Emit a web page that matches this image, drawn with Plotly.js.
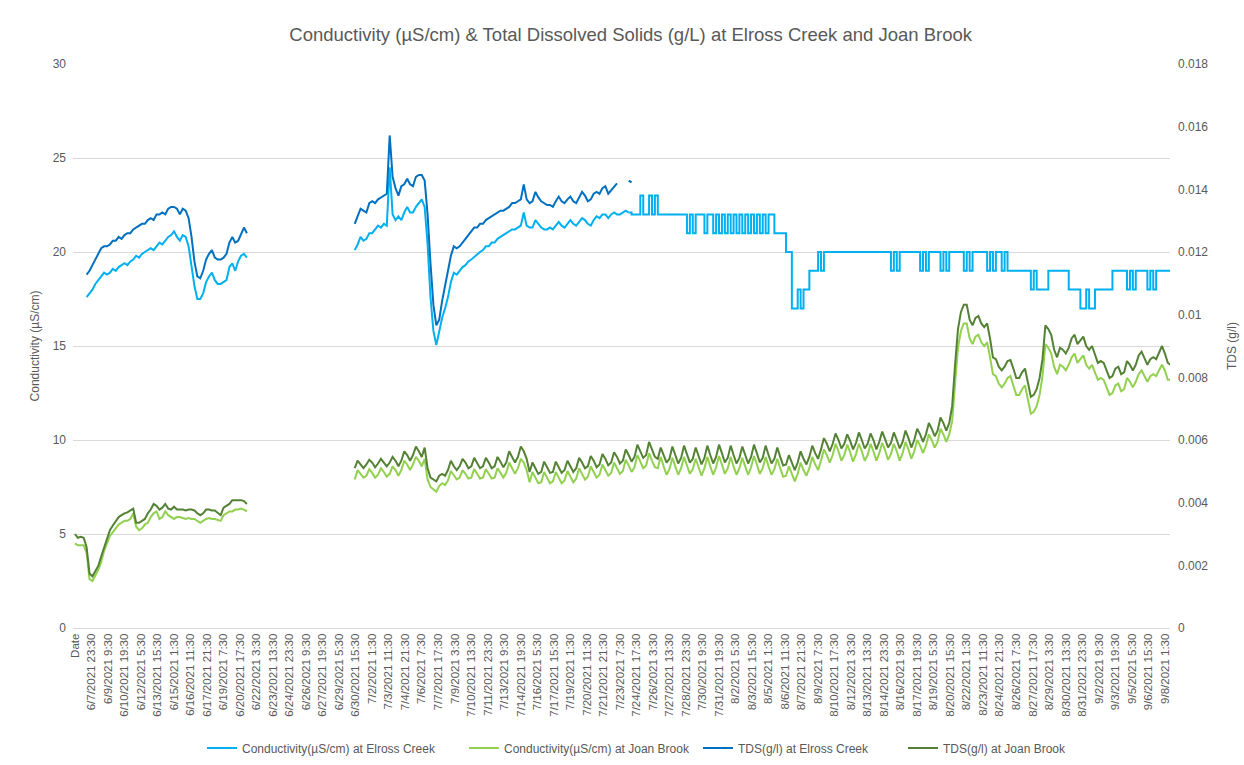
<!DOCTYPE html>
<html>
<head>
<meta charset="utf-8">
<script src="https://cdn.plot.ly/plotly-3.0.1.min.js"></script>
<style>html,body{margin:0;padding:0;background:#fff;}#chart{width:1244px;height:765px;}</style>
</head>
<body>
<div id="chart"></div>
<script>
// ---------- DATA (one reading every 6 hours) ----------
const stepHours = 6;

// Conductivity (µS/cm) at Elross Creek
const condElrossJunStart = '2021-06-07 13:30';
const condElrossJun = [17.6,17.8,18.0,18.3,18.5,18.7,18.9,18.8,18.9,19.1,
  19.0,19.2,19.3,19.4,19.3,19.5,19.6,19.8,19.7,19.9,
  20.0,20.1,20.2,20.1,20.3,20.5,20.4,20.6,20.8,20.9,
  21.1,20.8,20.6,20.9,20.8,20.3,19.3,18.2,17.5,17.5,
  17.8,18.4,18.7,18.9,18.5,18.3,18.3,18.4,18.5,19.2,
  19.4,19.0,19.5,19.8,19.9,19.7];
const condElrossJulStart = '2021-06-30 13:30';
const condElrossJul = [20.1,20.4,20.8,20.6,20.7,21.0,21.0,21.2,21.4,21.3,
  21.5,21.4,24.5,22.0,21.7,21.9,21.7,22.1,22.4,22.1,
  22.1,22.4,22.6,22.8,22.4,20.4,17.6,15.8,15.05,15.8,
  16.5,17.0,17.6,18.4,18.9,18.8,19.0,19.2,19.3,19.5,
  19.6,19.75,19.9,20.0,20.1,20.3,20.3,20.5,20.5,20.7,
  20.8,20.9,21.0,21.1,21.2,21.2,21.3,21.4,22.1,21.4,
  21.3,21.3,21.7,21.5,21.3,21.2,21.2,21.3,21.2,21.4,
  21.6,21.4,21.3,21.5,21.7,21.5,21.4,21.6,21.8,21.7,
  21.5,21.4,21.7,21.9,21.8,22.0,22.0,21.8,22.0,22.1,
  22.0,22.0,22.1,22.2,22.1,22.0,22.0,22.0,23.0,22.0,
  22,23,22,23,22,22,22,22,22,22,
  22,22,22,22,21,22,21,22,22,22,
  21,22,22,21,22,21,22,21,22,21,
  22,21,22,21,22,21,22,21,22,21,
  22,21,22,22,21,21,21,21,20,20,
  17,17,18,17,18,18,19,19,19,20,
  19,20,20,20,20,20,20,20,20,20,
  20,20,20,20,20,20,20,20,20,20,
  20,20,20,20,19,20,19,20,20,20,
  20,20,20,20,19,20,19,20,20,20,
  20,19,20,19,20,20,20,20,20,19,
  20,19,20,20,20,20,20,19,20,19,
  20,20,19,20,19,19,19,19,19,19,
  19,19,18,19,18,18,18,18,19,19,
  19,19,19,19,19,18,18,18,18,17,
  17,18,17,17,18,18,18,18,18,18,
  19,19,19,19,19,18,19,18,19,19,
  19,19,18,19,18,19,19,19,19,19,
  19];
// from this reading on the Elross conductivity is logged in whole µS/cm steps
const condElrossStepFrom = '2021-07-24 01:30';

// Conductivity (µS/cm) at Joan Brook
const condJoanJunStart = '2021-06-06 13:30';
const condJoanJun = [4.5,4.4,4.4,4.4,4.0,2.6,2.5,2.8,3.1,3.5,
  4.1,4.5,4.9,5.1,5.3,5.5,5.6,5.7,5.7,5.8,
  6.1,5.4,5.2,5.3,5.5,5.6,5.9,6.1,6.2,5.8,
  5.9,6.2,6.0,5.9,5.8,5.9,5.9,5.85,5.8,5.85,
  5.8,5.8,5.7,5.6,5.7,5.8,5.85,5.8,5.8,5.75,
  5.7,6.0,6.1,6.2,6.2,6.3,6.3,6.35,6.3,6.2];
const condJoanJulStart = '2021-06-30 13:30';
const condJoanJul = [7.9,8.4,8.2,8.0, 8.1,8.45,8.25,8.0, 8.15,8.5,8.3,8.05, 8.2,8.6,8.4,8.1,
  8.4,8.9,8.7,8.4, 8.7,9.1,8.9,8.6, 9.0,7.9,7.5,7.35, 7.25,7.55,7.7,7.6,
  7.85,8.35,8.1,7.9, 8.0,8.4,8.2,7.95, 8.0,8.45,8.2,7.95, 8.0,8.45,8.2,7.95,
  8.0,8.5,8.25,8.0, 8.25,8.8,8.5,8.2, 8.5,9.0,8.8,8.4, 7.75,8.3,8.0,7.7,
  7.75,8.3,8.0,7.7, 7.8,8.3,8.0,7.7, 7.85,8.35,8.05,7.75, 7.95,8.5,8.2,7.9,
  8.05,8.6,8.3,8.0, 8.15,8.7,8.4,8.1, 8.25,8.8,8.5,8.2, 8.35,8.95,8.65,8.3,
  8.55,9.2,8.85,8.5, 8.65,9.3,8.9,8.55, 8.5,9.1,8.6,8.15, 8.45,9.05,8.6,8.15,
  8.5,9.1,8.65,8.2, 8.45,9.0,8.55,8.1, 8.5,9.1,8.6,8.15, 8.55,9.15,8.7,8.2,
  8.5,9.1,8.6,8.15, 8.5,9.05,8.6,8.15, 8.55,9.15,8.7,8.2, 8.5,9.1,8.6,8.15,
  8.45,9.0,8.5,8.05, 8.1,8.6,8.2,7.8, 8.2,8.8,8.4,8.1, 8.5,9.1,8.7,8.4,
  8.9,9.5,9.2,8.8, 9.2,9.8,9.4,8.9, 9.2,9.75,9.35,8.85, 9.25,9.8,9.4,8.9,
  9.2,9.8,9.4,8.9, 9.3,9.85,9.45,8.95, 9.25,9.8,9.4,8.9, 9.3,9.9,9.5,9.0,
  9.4,10.0,9.7,9.3, 9.7,10.3,10.0,9.6, 9.9,10.6,10.3,9.9,
  10.3,11.0,13.0,14.9,15.8,16.2,16.2,15.4,15.1,15.5,
  15.6,15.2,15.0,15.2,14.4,13.5,13.4,13.0,12.8,13.0,
  13.3,13.4,12.9,12.4,12.4,12.7,12.9,12.1,11.4,11.5,
  11.8,12.4,13.4,15.1,14.9,14.6,13.9,13.5,14.0,13.9,
  13.7,14.0,14.4,14.6,14.1,14.3,14.5,14.0,13.8,14.0,
  13.6,13.2,13.3,13.2,12.8,12.4,12.5,12.9,13.0,12.6,
  12.7,13.3,13.1,12.8,13.1,13.5,13.7,13.4,13.1,13.4,
  13.5,13.4,13.7,14.0,13.7,13.2,13.2];

// TDS (g/l) at Elross Creek
const tdsElrossJunStart = '2021-06-07 13:30';
const tdsElrossJun = [0.01128,0.0114,0.01158,0.01176,0.01194,0.01212,0.01218,0.01218,0.01224,0.01236,
  0.01236,0.01248,0.01242,0.01254,0.0126,0.0126,0.01272,0.01278,0.01284,0.0129,
  0.0129,0.01302,0.01308,0.01302,0.0132,0.0132,0.01326,0.0132,0.01338,0.01344,
  0.01344,0.01338,0.0132,0.01338,0.01332,0.01308,0.01248,0.0117,0.01122,0.01116,
  0.0114,0.01176,0.01194,0.01206,0.01182,0.01176,0.01176,0.01182,0.01194,0.0123,
  0.01248,0.0123,0.01236,0.0126,0.01278,0.0126];
const tdsElrossJulStart = '2021-06-30 13:30';
const tdsElrossJul = [0.0129,0.01314,0.01338,0.01332,0.01326,0.01356,0.01362,0.01356,0.01368,0.01374,
  0.0138,0.01386,0.01572,0.0144,0.01404,0.0138,0.0141,0.01416,0.01434,0.01416,
  0.0141,0.0144,0.01446,0.01446,0.01428,0.0132,0.01164,0.01032,0.00966,0.00984,
  0.01044,0.01098,0.0114,0.01188,0.01218,0.01212,0.01218,0.0123,0.01242,0.01254,
  0.01266,0.01278,0.01278,0.0129,0.0129,0.01302,0.01308,0.01314,0.0132,0.01326,
  0.01332,0.01332,0.01338,0.01344,0.01356,0.01356,0.01362,0.01368,0.01416,0.01368,
  0.01356,0.01362,0.01392,0.01374,0.01362,0.01356,0.0135,0.0135,0.01344,0.01362,
  0.01377,0.01362,0.01356,0.01368,0.01377,0.01362,0.01356,0.01374,0.01392,0.0138,
  0.01362,0.01368,0.01386,0.01392,0.01386,0.01404,0.0141,0.01386,0.01398,0.0141,
  0.01419];
const tdsElrossLateStart = '2021-07-24 01:30';
const tdsElrossLate = [0.01428,0.01422];

// TDS (g/l) at Joan Brook
const tdsJoanJunStart = '2021-06-06 13:30';
const tdsJoanJun = [0.003,0.00288,0.00291,0.00288,0.00258,0.00174,0.00165,0.0018,0.00198,0.00228,
  0.00258,0.00288,0.00312,0.00327,0.00342,0.00354,0.0036,0.00366,0.00369,0.00375,
  0.00381,0.00336,0.00336,0.00342,0.00348,0.00366,0.00378,0.00396,0.0039,0.00378,
  0.00384,0.00396,0.00381,0.00378,0.00387,0.00378,0.00378,0.00378,0.00375,0.00378,
  0.00378,0.00375,0.00366,0.0036,0.00366,0.00378,0.00378,0.00375,0.00375,0.00366,
  0.0036,0.00384,0.0039,0.00396,0.00408,0.00408,0.00408,0.00408,0.00405,0.00396];
const tdsJoanJulStart = '2021-06-30 13:30';
const tdsJoanJul = [0.0051,0.00534,0.00522,0.0051, 0.00522,0.00537,0.00528,0.00513, 0.00525,0.0054,0.00528,0.00516, 0.00528,0.00546,0.00534,0.00516,
  0.00534,0.00564,0.00552,0.00534, 0.00552,0.00579,0.00564,0.00546, 0.00576,0.0051,0.0048,0.00474, 0.00468,0.00486,0.00492,0.00486,
  0.00504,0.00534,0.00516,0.00504, 0.00516,0.0054,0.00528,0.0051, 0.00516,0.00543,0.00528,0.0051, 0.00516,0.00543,0.00528,0.0051,
  0.00516,0.00546,0.00531,0.00513, 0.00528,0.00564,0.00546,0.00528, 0.00546,0.00579,0.00564,0.0054, 0.00498,0.00528,0.0051,0.00492,
  0.00498,0.00531,0.00513,0.00495, 0.00498,0.00531,0.00513,0.00495, 0.00504,0.00534,0.00516,0.00498, 0.0051,0.00543,0.00528,0.0051,
  0.00516,0.00549,0.00534,0.00513, 0.00522,0.00555,0.0054,0.00519, 0.00528,0.00561,0.00546,0.00525, 0.00534,0.0057,0.00552,0.00531,
  0.00546,0.00585,0.00564,0.00543, 0.00552,0.00594,0.0057,0.00546, 0.0054,0.00576,0.00552,0.00528, 0.0054,0.00579,0.00552,0.00525,
  0.00543,0.00582,0.00555,0.00528, 0.0054,0.00576,0.00549,0.00522, 0.00543,0.00582,0.00552,0.00525, 0.00546,0.00585,0.00558,0.00528,
  0.00543,0.00582,0.00552,0.00525, 0.00543,0.00579,0.00552,0.00525, 0.00546,0.00585,0.00558,0.00528, 0.00543,0.00582,0.00552,0.00525,
  0.0054,0.00576,0.00546,0.00519, 0.00522,0.00552,0.00528,0.00504, 0.00528,0.00564,0.0054,0.00522, 0.00546,0.00582,0.00558,0.0054,
  0.0057,0.00606,0.00588,0.00564, 0.00588,0.00621,0.006,0.00573, 0.00588,0.00618,0.00597,0.0057, 0.00591,0.00624,0.006,0.00573,
  0.00588,0.00621,0.006,0.0057, 0.00594,0.00627,0.00603,0.00576, 0.00591,0.00624,0.006,0.00573, 0.00594,0.0063,0.00606,0.00576,
  0.006,0.00636,0.00618,0.00594, 0.00618,0.00654,0.00636,0.00612, 0.0063,0.00672,0.00654,0.0063,
  0.00654,0.00708,0.0084,0.00954,0.01008,0.01032,0.01032,0.00984,0.00966,0.0099,
  0.00996,0.00972,0.0096,0.00972,0.00924,0.00864,0.00858,0.00834,0.00822,0.00834,
  0.00852,0.00855,0.00828,0.00798,0.00798,0.00816,0.00828,0.0078,0.00738,0.00744,
  0.00762,0.00798,0.00858,0.00966,0.00954,0.00936,0.00888,0.00864,0.00894,0.00888,
  0.00876,0.00894,0.00924,0.00936,0.00906,0.00918,0.0093,0.009,0.00888,0.009,
  0.00876,0.00846,0.00852,0.00846,0.00822,0.00798,0.00804,0.00828,0.00834,0.0081,
  0.00816,0.00852,0.0084,0.00822,0.0084,0.0087,0.00882,0.00858,0.0084,0.00858,
  0.00864,0.00858,0.00882,0.009,0.00876,0.00846,0.0084];

// Category axis labels (every 34 hours, first one is the header cell)
const tickLabels = ["Date","6/7/2021 23:30","6/9/2021 9:30","6/10/2021 19:30","6/12/2021 5:30","6/13/2021 15:30","6/15/2021 1:30","6/16/2021 11:30","6/17/2021 21:30","6/19/2021 7:30","6/20/2021 17:30","6/22/2021 3:30","6/23/2021 13:30","6/24/2021 23:30","6/26/2021 9:30","6/27/2021 19:30","6/29/2021 5:30","6/30/2021 15:30","7/2/2021 1:30","7/3/2021 11:30","7/4/2021 21:30","7/6/2021 7:30","7/7/2021 17:30","7/9/2021 3:30","7/10/2021 13:30","7/11/2021 23:30","7/13/2021 9:30","7/14/2021 19:30","7/16/2021 5:30","7/17/2021 15:30","7/19/2021 1:30","7/20/2021 11:30","7/21/2021 21:30","7/23/2021 7:30","7/24/2021 17:30","7/26/2021 3:30","7/27/2021 13:30","7/28/2021 23:30","7/30/2021 9:30","7/31/2021 19:30","8/2/2021 5:30","8/3/2021 15:30","8/5/2021 1:30","8/6/2021 11:30","8/7/2021 21:30","8/9/2021 7:30","8/10/2021 17:30","8/12/2021 3:30","8/13/2021 13:30","8/14/2021 23:30","8/16/2021 9:30","8/17/2021 19:30","8/19/2021 5:30","8/20/2021 15:30","8/22/2021 1:30","8/23/2021 11:30","8/24/2021 21:30","8/26/2021 7:30","8/27/2021 17:30","8/29/2021 3:30","8/30/2021 13:30","8/31/2021 23:30","9/2/2021 9:30","9/3/2021 19:30","9/5/2021 5:30","9/6/2021 15:30","9/8/2021 1:30"];
const headerLabelTime = '2021-06-06 13:30';

const seriesNames = ["Conductivity(µS/cm) at Elross Creek","Conductivity(µS/cm) at Joan Brook","TDS(g/l) at Elross Creek","TDS(g/l) at Joan Brook"];
const seriesColors = ['#00B0F0','#92D050','#0070C0','#548235'];

// ---------- helpers ----------
function toMs(s){ const [d,t]=s.split(' '); const [Y,M,D]=d.split('-').map(Number); const [h,m]=t.split(':').map(Number); return Date.UTC(Y,M-1,D,h,m); }
function fmt(ms){ return new Date(ms).toISOString().slice(0,16).replace('T',' '); }
function segments(list){
  const xs=[], ys=[];
  list.forEach(([start, vals], n) => {
    if (n>0){ xs.push(fmt(toMs(start)-3600e3)); ys.push(null); }
    const t0 = toMs(start);
    vals.forEach((v,k)=>{ xs.push(fmt(t0 + k*stepHours*3600e3)); ys.push(v); });
  });
  return {x:xs, y:ys};
}
function labelTime(lbl){
  if (lbl === 'Date') return headerLabelTime;
  const [d,t]=lbl.split(' '); const [M,D,Y]=d.split('/').map(Number); const [h,m]=t.split(':').map(Number);
  return fmt(Date.UTC(Y,M-1,D,h,m));
}

const s1 = segments([[condElrossJunStart,condElrossJun],[condElrossJulStart,condElrossJul]]);
const s2 = segments([[condJoanJunStart,condJoanJun],[condJoanJulStart,condJoanJul]]);
const s3 = segments([[tdsElrossJunStart,tdsElrossJun],[tdsElrossJulStart,tdsElrossJul],[tdsElrossLateStart,tdsElrossLate]]);
const s4 = segments([[tdsJoanJunStart,tdsJoanJun],[tdsJoanJulStart,tdsJoanJul]]);

// split the Elross conductivity into its smooth part and its whole-step part (same series, one legend entry)
const cut = s1.x.indexOf(condElrossStepFrom);
const s1a = {x:s1.x.slice(0,cut+1), y:s1.y.slice(0,cut+1)};
const s1b = {x:s1.x.slice(cut), y:s1.y.slice(cut)};

const font = 'Liberation Sans, Arial, sans-serif';
const grey = '#595959';
function tr(d, i, extra){
  return Object.assign({type:'scatter', mode:'lines', x:d.x, y:d.y, name:seriesNames[i], legendgroup:'g'+i,
    connectgaps:false, line:{color:seriesColors[i], width:2}, hoverinfo:'skip'}, extra||{});
}
const traces = [
  tr(s1a,0,{yaxis:'y', legend:'legend'}),
  tr(s2,1,{yaxis:'y', legend:'legend2'}),
  tr(s3,2,{yaxis:'y2', legend:'legend3'}),
  tr(s4,3,{yaxis:'y2', legend:'legend4'}),
  tr(s1b,0,{yaxis:'y', showlegend:false, line:{color:seriesColors[0], width:2, shape:'hv'}})
];

const legendBase = {orientation:'h', xanchor:'left', y:-0.2128, yanchor:'middle', font:{family:font, size:12, color:grey}, bgcolor:'rgba(0,0,0,0)'};
const layout = {
  width:1244, height:765,
  paper_bgcolor:'#fff', plot_bgcolor:'#fff',
  margin:{l:73, r:74, t:64, b:137, autoexpand:false},
  font:{family:font, color:grey},
  title:{text:'Conductivity (µS/cm) & Total Dissolved Solids (g/L) at Elross Creek and Joan Brook',
    font:{family:font, size:18.5, color:grey}, xref:'container', yref:'container', x:0.507, xanchor:'center', y:0.955, yanchor:'middle'},
  xaxis:{type:'date', range:['2021-06-06 09:30','2021-09-08 12:00'], tickmode:'array',
    tickvals:tickLabels.map(labelTime), ticktext:tickLabels, tickangle:-90,
    tickfont:{family:font, size:11.5, color:grey}, showgrid:false, zeroline:false,
    showline:true, linecolor:'#d9d9d9', linewidth:1, ticks:''},
  yaxis:{range:[0,30], dtick:5, tickfont:{family:font, size:12, color:grey}, gridcolor:'#d9d9d9', gridwidth:1,
    zeroline:false, showline:false, ticks:'', ticklabelstandoff:6,
    title:{text:'Conductivity (µS/cm)', font:{family:font, size:12, color:grey}, standoff:10}},
  yaxis2:{overlaying:'y', side:'right', range:[0,0.018], dtick:0.002, showgrid:false, zeroline:false, showline:false, ticks:'',
    ticklabelstandoff:7, tickfont:{family:font, size:12, color:grey},
    title:{text:'TDS (g/l)', font:{family:font, size:12, color:grey}, standoff:20}},
  showlegend:true,
  legend: Object.assign({}, legendBase, {x:0.1176}),
  legend2: Object.assign({}, legendBase, {x:0.3564}),
  legend3: Object.assign({}, legendBase, {x:0.5697}),
  legend4: Object.assign({}, legendBase, {x:0.7566})
};

Plotly.newPlot('chart', traces, layout, {displayModeBar:false, staticPlot:true});
</script>
</body>
</html>
